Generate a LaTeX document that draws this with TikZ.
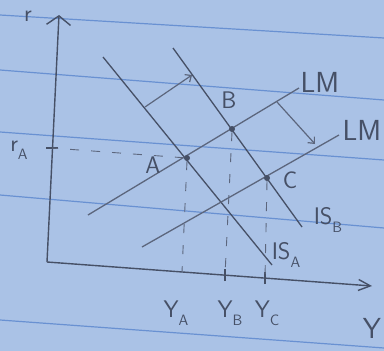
\documentclass[tikz,border=0pt]{standalone}
\usetikzlibrary{arrows.meta}
\definecolor{paper}{RGB}{170,194,230}
\definecolor{rule}{RGB}{105,145,210}
\definecolor{pencil}{RGB}{70,80,102}
\definecolor{pencillight}{RGB}{92,102,125}
\newcommand{\subtxt}[1]{\raisebox{-0.35em}{\fontsize{15}{15}\selectfont #1}}
\tikzset{
  ruled/.style={rule, line width=1.2pt},
  axis/.style={pencil, line width=1.4pt},
  curve/.style={pencil, line width=1.3pt},
  lmcurve/.style={pencillight, line width=1.3pt},
  shiftarrow/.style={pencillight, line width=1.2pt, -{Straight Barb[length=5pt,width=9pt]}},
  guide/.style={pencillight, line width=0.9pt, dash pattern=on 9pt off 12pt},
  eqdot/.style={circle, fill=pencil, inner sep=0pt, minimum size=6pt},
  lbl/.style={pencil, font=\sffamily\fontsize{24}{24}\selectfont, inner sep=0pt},
  biglbl/.style={pencil, font=\sffamily\fontsize{29}{29}\selectfont, inner sep=0pt},
  tickmark/.style={pencil, line width=1.2pt}
}
\begin{document}
\begin{tikzpicture}[x=1pt,y=-1pt]
\useasboundingbox (0,0) rectangle (384,351);
\fill[paper] (0,0) rectangle (384,351);
% ruled paper lines
\draw[ruled] (0,15) -- (384,38);
\draw[ruled] (0,70) -- (384,100);
\draw[ruled] (0,132) -- (384,160);
\draw[ruled] (0,195) -- (384,228);
\draw[ruled] (0,320) -- (384,348);
% axes
\coordinate (O) at (47,262);
\coordinate (ytop) at (59,15);
\coordinate (xend) at (372,286);
\draw[axis, -{Straight Barb[length=9pt,width=24pt]}] (O) -- (ytop);
\draw[axis, -{Straight Barb[length=12pt,width=11pt]}] (O) -- (xend);
% curve endpoints
\coordinate (isA1) at (103,57);
\coordinate (isA2) at (272,265);
\coordinate (isB1) at (173,48);
\coordinate (isB2) at (302,227);
\coordinate (lmA1) at (88,215);
\coordinate (lmA2) at (299,88);
\coordinate (lmB1) at (142,247);
\coordinate (lmB2) at (339,135);
\draw[curve] (isA1) -- (isA2);
\draw[curve] (isB1) -- (isB2);
\draw[lmcurve] (lmA1) -- (lmA2);
\draw[lmcurve] (lmB1) -- (lmB2);
% equilibrium points
\node[eqdot] (A) at (187,158) {};
\node[eqdot] (B) at (232,129) {};
\node[eqdot] (C) at (267,178) {};
% axis ticks
\coordinate (yA) at (182,272);
\coordinate (yB) at (225,275);
\coordinate (yC) at (265,278);
\coordinate (rA) at (52,148);
\draw[tickmark] ([yshift=-6pt]yB) -- ([yshift=6pt]yB);
\draw[tickmark] ([yshift=-6pt]yC) -- ([yshift=6pt]yC);
\draw[tickmark] ([xshift=-6pt]rA) -- ([xshift=6pt]rA);
% guide lines
\draw[guide] (A) -- (rA);
\draw[guide] (A.south) -- (yA);
\draw[guide] (B.south) -- (yB);
\draw[guide] (C.south) -- (yC);
% shift arrows
\coordinate (s1a) at (145,107);
\coordinate (s1b) at (192,75);
\coordinate (s2a) at (277,102);
\coordinate (s2b) at (315,144);
\draw[shiftarrow] (s1a) -- (s1b);
\draw[shiftarrow] (s2a) -- (s2b);
% labels
\node[lbl] (lr) at (28,16) {r};
\node[lbl] (lrA) at (19,150) {r\subtxt{A}};
\node[lbl] (lA) at (153,165) {A};
\node[lbl] (lB) at (229,100) {B};
\node[lbl] (lC) at (290,180) {C};
\node[biglbl] (lLM1) at (320,82) {LM};
\node[biglbl] (lLM2) at (362,130) {LM};
\node[lbl] (lISB) at (328,220) {IS\subtxt{B}};
\node[lbl] (lISA) at (286,255) {IS\subtxt{A}};
\node[lbl] (lYA) at (176,313) {Y\subtxt{A}};
\node[lbl] (lYB) at (230,313) {Y\subtxt{B}};
\node[lbl] (lYC) at (267,313) {Y\subtxt{C}};
\node[biglbl] (lY) at (372,328) {Y};
\end{tikzpicture}
\end{document}
